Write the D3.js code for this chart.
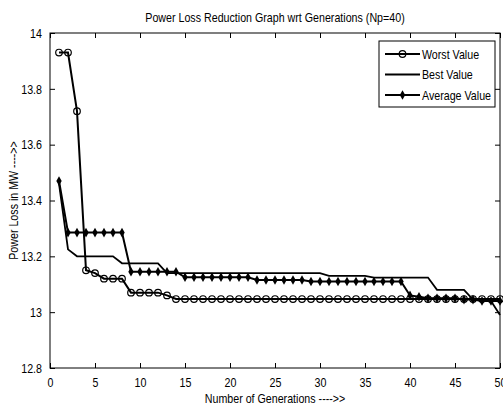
<!DOCTYPE html>
<html>
<head>
<meta charset="utf-8">
<script src="https://cdn.jsdelivr.net/npm/d3@7"></script>
<style>
  body { margin: 0; background: #fff; }
  svg text { font-family: "Liberation Sans", Arial, sans-serif; fill: #000; }
</style>
</head>
<body>
<svg id="chart"></svg>
<script>
// data
const generations = d3.range(1, 51);
const worstValue = [13.93, 13.93, 13.72, 13.15, 13.14, 13.12, 13.12, 13.12, 13.07, 13.07,
    13.07, 13.07, 13.06, 13.047, 13.047, 13.047, 13.047, 13.047, 13.047, 13.047,
    13.047, 13.047, 13.047, 13.047, 13.047, 13.047, 13.047, 13.047, 13.047, 13.047,
    13.047, 13.047, 13.047, 13.047, 13.047, 13.047, 13.047, 13.047, 13.047, 13.047,
    13.047, 13.047, 13.047, 13.047, 13.047, 13.047, 13.047, 13.047, 13.047, 13.047];
const bestValue = [13.46, 13.225, 13.2, 13.2, 13.2, 13.2, 13.2, 13.175, 13.175, 13.175,
    13.175, 13.175, 13.14, 13.14, 13.14, 13.14, 13.14, 13.14, 13.14, 13.14,
    13.14, 13.14, 13.14, 13.14, 13.14, 13.14, 13.14, 13.14, 13.14, 13.14,
    13.13, 13.13, 13.13, 13.13, 13.13, 13.124, 13.124, 13.124, 13.124, 13.124,
    13.124, 13.124, 13.08, 13.08, 13.08, 13.08, 13.045, 13.045, 13.04, 12.99];
const averageValue = [13.47, 13.285, 13.285, 13.285, 13.285, 13.285, 13.285, 13.285, 13.145, 13.145,
    13.145, 13.145, 13.145, 13.145, 13.125, 13.125, 13.125, 13.125, 13.125, 13.125,
    13.125, 13.125, 13.115, 13.115, 13.115, 13.115, 13.115, 13.115, 13.11, 13.11,
    13.11, 13.11, 13.11, 13.11, 13.11, 13.11, 13.11, 13.11, 13.11, 13.06,
    13.055, 13.05, 13.05, 13.05, 13.05, 13.045, 13.045, 13.04, 13.04, 13.04];
const xTicks = [0, 5, 10, 15, 20, 25, 30, 35, 40, 45, 50];
const yTicks = [12.8, 13, 13.2, 13.4, 13.6, 13.8, 14];

const width = 503;
const height = 411;
const margin = { top: 33, right: 3, bottom: 43, left: 50 };
const innerW = width - margin.left - margin.right;
const innerH = height - margin.top - margin.bottom;
const fontSize = "13.5px";

const svg = d3.select("#chart")
    .attr("width", width)
    .attr("height", height);

const g = svg.append("g")
    .attr("transform", `translate(${margin.left}, ${margin.top})`);

const x = d3.scaleLinear().domain([0, 50]).range([0, innerW]);
const y = d3.scaleLinear().domain([12.8, 14]).range([innerH, 0]);

// axes, MATLAB style: ticks point inward on all four sides
const tickLen = 5;
g.append("g")
    .attr("transform", `translate(0, ${innerH})`)
    .call(d3.axisBottom(x).tickValues(xTicks).tickSize(-tickLen).tickPadding(9).tickFormat(d3.format("d")))
    .call(a => a.select(".domain").remove())
    .selectAll("text").style("font-size", fontSize);
g.append("g")
    .call(d3.axisTop(x).tickValues(xTicks).tickSize(-tickLen).tickFormat(""))
    .call(a => a.select(".domain").remove());
g.append("g")
    .call(d3.axisLeft(y).tickValues(yTicks).tickSize(-tickLen).tickPadding(8).tickFormat(d => d3.format("")(+d.toFixed(1))))
    .call(a => a.select(".domain").remove())
    .selectAll("text").style("font-size", fontSize);
g.append("g")
    .attr("transform", `translate(${innerW}, 0)`)
    .call(d3.axisRight(y).tickValues(yTicks).tickSize(-tickLen).tickFormat(""))
    .call(a => a.select(".domain").remove());
g.selectAll(".tick line").attr("stroke", "#000");

// plot box
g.append("rect")
    .attr("width", innerW)
    .attr("height", innerH)
    .attr("fill", "none")
    .attr("stroke", "#000")
    .attr("stroke-width", 1);

const line = d3.line()
    .x((d, i) => x(generations[i]))
    .y(d => y(d));

const diamond = "M0,-4.8L2.7,0L0,4.8L-2.7,0Z";

// Best value (plain line)
g.append("path")
    .datum(bestValue)
    .attr("fill", "none")
    .attr("stroke", "#000")
    .attr("stroke-width", 1.8)
    .attr("d", line);

// Worst value (line + open circles)
g.append("path")
    .datum(worstValue)
    .attr("fill", "none")
    .attr("stroke", "#000")
    .attr("stroke-width", 2)
    .attr("d", line);
g.selectAll(".worst")
    .data(worstValue)
    .enter()
    .append("circle")
    .attr("class", "worst")
    .attr("cx", (d, i) => x(generations[i]))
    .attr("cy", d => y(d))
    .attr("r", 3.3)
    .attr("fill", "none")
    .attr("stroke", "#000")
    .attr("stroke-width", 1.2);

// Average value (line + filled diamonds)
g.append("path")
    .datum(averageValue)
    .attr("fill", "none")
    .attr("stroke", "#000")
    .attr("stroke-width", 2)
    .attr("d", line);
g.selectAll(".avg")
    .data(averageValue)
    .enter()
    .append("path")
    .attr("class", "avg")
    .attr("transform", (d, i) => `translate(${x(generations[i])}, ${y(d)})`)
    .attr("d", diamond)
    .attr("fill", "#000");

// legend
const legend = svg.append("g").attr("transform", "translate(379, 41)");
legend.append("rect")
    .attr("width", 116)
    .attr("height", 66)
    .attr("fill", "#fff")
    .attr("stroke", "#000");
const entries = ["Worst Value", "Best Value", "Average Value"];
entries.forEach((name, i) => {
    const ly = 13 + i * 20.5;
    legend.append("line")
        .attr("x1", 6).attr("x2", 41)
        .attr("y1", ly).attr("y2", ly)
        .attr("stroke", "#000")
        .attr("stroke-width", i === 1 ? 1.8 : 2);
    if (i === 0) {
        legend.append("circle")
            .attr("cx", 23.5).attr("cy", ly).attr("r", 3.3)
            .attr("fill", "none").attr("stroke", "#000").attr("stroke-width", 1.2);
    }
    if (i === 2) {
        legend.append("path")
            .attr("transform", `translate(23.5, ${ly})`)
            .attr("d", diamond)
            .attr("fill", "#000");
    }
    legend.append("text")
        .attr("x", 43)
        .attr("y", ly)
        .attr("dy", "0.35em")
        .style("font-size", fontSize)
        .text(name);
});

// title and labels
svg.append("text")
    .attr("x", margin.left + innerW / 2)
    .attr("y", 22)
    .attr("text-anchor", "middle")
    .style("font-size", fontSize)
    .text("Power Loss Reduction Graph wrt Generations (Np=40)");

svg.append("text")
    .attr("x", margin.left + innerW / 2)
    .attr("y", 403)
    .attr("text-anchor", "middle")
    .style("font-size", fontSize)
    .text("Number of Generations ---->>");

svg.append("text")
    .attr("transform", `translate(18, ${margin.top + innerH / 2}) rotate(-90)`)
    .attr("text-anchor", "middle")
    .style("font-size", fontSize)
    .text("Power Loss in MW ---->>");

// the original uses a narrow Helvetica; squeeze glyphs to match
svg.selectAll("text").each(function() {
    const w = this.getComputedTextLength();
    if (w > 0) {
        this.setAttribute("textLength", (w * 0.79).toFixed(1));
        this.setAttribute("lengthAdjust", "spacingAndGlyphs");
    }
});
</script>
</body>
</html>
